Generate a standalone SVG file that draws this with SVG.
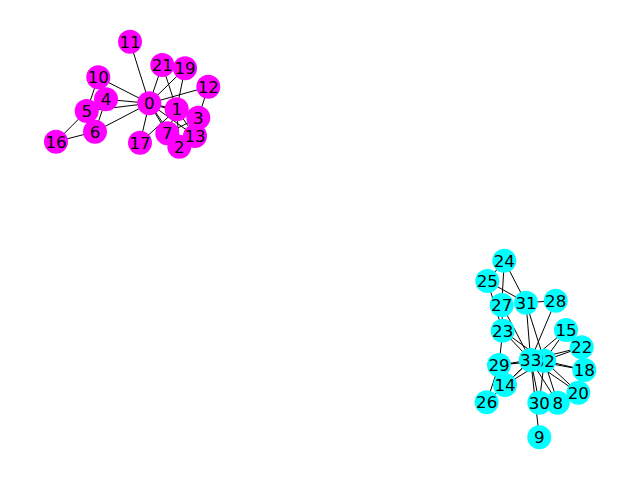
<svg xmlns="http://www.w3.org/2000/svg" width="640" height="480" viewBox="0 0 640 480">
<style>
line{stroke:#000;stroke-width:1}
.a circle{fill:#ff00ff}
.b circle{fill:#00ffff}
circle{r:12}
text{font-family:"DejaVu Sans",sans-serif;font-size:16.67px;text-anchor:middle;fill:#000}
</style>
<rect width="640" height="480" fill="#fff"/>
<g id="edges">
<!-- community A -->
<line x1="149.3" y1="103.3" x2="176.7" y2="109.3"/>
<line x1="149.3" y1="103.3" x2="179.3" y2="146.7"/>
<line x1="149.3" y1="103.3" x2="198.3" y2="117.7"/>
<line x1="149.3" y1="103.3" x2="106" y2="99.3"/>
<line x1="149.3" y1="103.3" x2="86.7" y2="111"/>
<line x1="149.3" y1="103.3" x2="95" y2="131.7"/>
<line x1="149.3" y1="103.3" x2="167.3" y2="133.3"/>
<line x1="149.3" y1="103.3" x2="98.3" y2="77.3"/>
<line x1="149.3" y1="103.3" x2="130" y2="41.7"/>
<line x1="149.3" y1="103.3" x2="208.3" y2="86.7"/>
<line x1="149.3" y1="103.3" x2="195" y2="136"/>
<line x1="149.3" y1="103.3" x2="140" y2="142.7"/>
<line x1="149.3" y1="103.3" x2="185" y2="68.3"/>
<line x1="149.3" y1="103.3" x2="162.3" y2="65"/>
<line x1="176.7" y1="109.3" x2="179.3" y2="146.7"/>
<line x1="176.7" y1="109.3" x2="198.3" y2="117.7"/>
<line x1="176.7" y1="109.3" x2="167.3" y2="133.3"/>
<line x1="176.7" y1="109.3" x2="195" y2="136"/>
<line x1="176.7" y1="109.3" x2="140" y2="142.7"/>
<line x1="176.7" y1="109.3" x2="185" y2="68.3"/>
<line x1="176.7" y1="109.3" x2="162.3" y2="65"/>
<line x1="179.3" y1="146.7" x2="198.3" y2="117.7"/>
<line x1="179.3" y1="146.7" x2="167.3" y2="133.3"/>
<line x1="179.3" y1="146.7" x2="195" y2="136"/>
<line x1="198.3" y1="117.7" x2="167.3" y2="133.3"/>
<line x1="198.3" y1="117.7" x2="208.3" y2="86.7"/>
<line x1="198.3" y1="117.7" x2="195" y2="136"/>
<line x1="106" y1="99.3" x2="95" y2="131.7"/>
<line x1="106" y1="99.3" x2="98.3" y2="77.3"/>
<line x1="86.7" y1="111" x2="95" y2="131.7"/>
<line x1="86.7" y1="111" x2="98.3" y2="77.3"/>
<line x1="86.7" y1="111" x2="56" y2="141.7"/>
<line x1="95" y1="131.7" x2="56" y2="141.7"/>
<!-- community B -->
<line x1="557.7" y1="402.7" x2="539.3" y2="402.7"/>
<line x1="557.7" y1="402.7" x2="544.3" y2="360.7"/>
<line x1="557.7" y1="402.7" x2="530.7" y2="360"/>
<line x1="539.3" y1="437.3" x2="530.7" y2="360"/>
<line x1="505" y1="385" x2="544.3" y2="360.7"/>
<line x1="505" y1="385" x2="530.7" y2="360"/>
<line x1="566" y1="330" x2="544.3" y2="360.7"/>
<line x1="566" y1="330" x2="530.7" y2="360"/>
<line x1="584.3" y1="370" x2="544.3" y2="360.7"/>
<line x1="584.3" y1="370" x2="530.7" y2="360"/>
<line x1="578.3" y1="392.7" x2="544.3" y2="360.7"/>
<line x1="578.3" y1="392.7" x2="530.7" y2="360"/>
<line x1="581.7" y1="347.3" x2="544.3" y2="360.7"/>
<line x1="581.7" y1="347.3" x2="530.7" y2="360"/>
<line x1="502.7" y1="330.7" x2="487.3" y2="281"/>
<line x1="502.7" y1="330.7" x2="501.7" y2="305"/>
<line x1="502.7" y1="330.7" x2="499" y2="365"/>
<line x1="502.7" y1="330.7" x2="544.3" y2="360.7"/>
<line x1="502.7" y1="330.7" x2="530.7" y2="360"/>
<line x1="504.3" y1="260.7" x2="487.3" y2="281"/>
<line x1="504.3" y1="260.7" x2="501.7" y2="305"/>
<line x1="504.3" y1="260.7" x2="526" y2="302.7"/>
<line x1="487.3" y1="281" x2="526" y2="302.7"/>
<line x1="486.7" y1="402.3" x2="499" y2="365"/>
<line x1="486.7" y1="402.3" x2="530.7" y2="360"/>
<line x1="501.7" y1="305" x2="530.7" y2="360"/>
<line x1="555.7" y1="300.7" x2="526" y2="302.7"/>
<line x1="555.7" y1="300.7" x2="530.7" y2="360"/>
<line x1="499" y1="365" x2="544.3" y2="360.7"/>
<line x1="499" y1="365" x2="530.7" y2="360"/>
<line x1="539.3" y1="402.7" x2="544.3" y2="360.7"/>
<line x1="539.3" y1="402.7" x2="530.7" y2="360"/>
<line x1="526" y1="302.7" x2="544.3" y2="360.7"/>
<line x1="526" y1="302.7" x2="530.7" y2="360"/>
<line x1="544.3" y1="360.7" x2="530.7" y2="360"/>
</g>
<g class="a">
<g id="n0"><circle cx="149.3" cy="103.3"/><text x="149.3" y="109.4">0</text></g>
<g id="n1"><circle cx="176.7" cy="109.3"/><text x="176.7" y="115.4">1</text></g>
<g id="n2"><circle cx="179.3" cy="146.7"/><text x="179.3" y="152.8">2</text></g>
<g id="n3"><circle cx="198.3" cy="117.7"/><text x="198.3" y="123.8">3</text></g>
<g id="n4"><circle cx="106" cy="99.3"/><text x="106" y="105.4">4</text></g>
<g id="n5"><circle cx="86.7" cy="111"/><text x="86.7" y="117.1">5</text></g>
<g id="n6"><circle cx="95" cy="131.7"/><text x="95" y="137.8">6</text></g>
<g id="n7"><circle cx="167.3" cy="133.3"/><text x="167.3" y="139.4">7</text></g>
<g id="n10"><circle cx="98.3" cy="77.3"/><text x="98.3" y="83.4">10</text></g>
<g id="n11"><circle cx="130" cy="41.7"/><text x="130" y="47.8">11</text></g>
<g id="n12"><circle cx="208.3" cy="86.7"/><text x="208.3" y="92.8">12</text></g>
<g id="n13"><circle cx="195" cy="136"/><text x="195" y="142.1">13</text></g>
<g id="n16"><circle cx="56" cy="141.7"/><text x="56" y="147.8">16</text></g>
<g id="n17"><circle cx="140" cy="142.7"/><text x="140" y="148.8">17</text></g>
<g id="n19"><circle cx="185" cy="68.3"/><text x="185" y="74.4">19</text></g>
<g id="n21"><circle cx="162.3" cy="65"/><text x="162.3" y="71.1">21</text></g>
</g>
<g class="b">
<g id="n8"><circle cx="557.7" cy="402.7"/><text x="557.7" y="408.8">8</text></g>
<g id="n9"><circle cx="539.3" cy="437.3"/><text x="539.3" y="443.4">9</text></g>
<g id="n14"><circle cx="505" cy="385"/><text x="505" y="391.1">14</text></g>
<g id="n15"><circle cx="566" cy="330"/><text x="566" y="336.1">15</text></g>
<g id="n18"><circle cx="584.3" cy="370"/><text x="584.3" y="376.1">18</text></g>
<g id="n20"><circle cx="578.3" cy="392.7"/><text x="578.3" y="398.8">20</text></g>
<g id="n22"><circle cx="581.7" cy="347.3"/><text x="581.7" y="353.4">22</text></g>
<g id="n23"><circle cx="502.7" cy="330.7"/><text x="502.7" y="336.8">23</text></g>
<g id="n24"><circle cx="504.3" cy="260.7"/><text x="504.3" y="266.8">24</text></g>
<g id="n25"><circle cx="487.3" cy="281"/><text x="487.3" y="287.1">25</text></g>
<g id="n26"><circle cx="486.7" cy="402.3"/><text x="486.7" y="408.4">26</text></g>
<g id="n27"><circle cx="501.7" cy="305"/><text x="501.7" y="311.1">27</text></g>
<g id="n28"><circle cx="555.7" cy="300.7"/><text x="555.7" y="306.8">28</text></g>
<g id="n29"><circle cx="499" cy="365"/><text x="499" y="371.1">29</text></g>
<g id="n30"><circle cx="539.3" cy="402.7"/><text x="539.3" y="408.8">30</text></g>
<g id="n31"><circle cx="526" cy="302.7"/><text x="526" y="308.8">31</text></g>
<g id="n32"><circle cx="544.3" cy="360.7"/><text x="544.3" y="366.8">32</text></g>
<g id="n33"><circle cx="530.7" cy="360"/><text x="530.7" y="366.1">33</text></g>
</g>
</svg>
